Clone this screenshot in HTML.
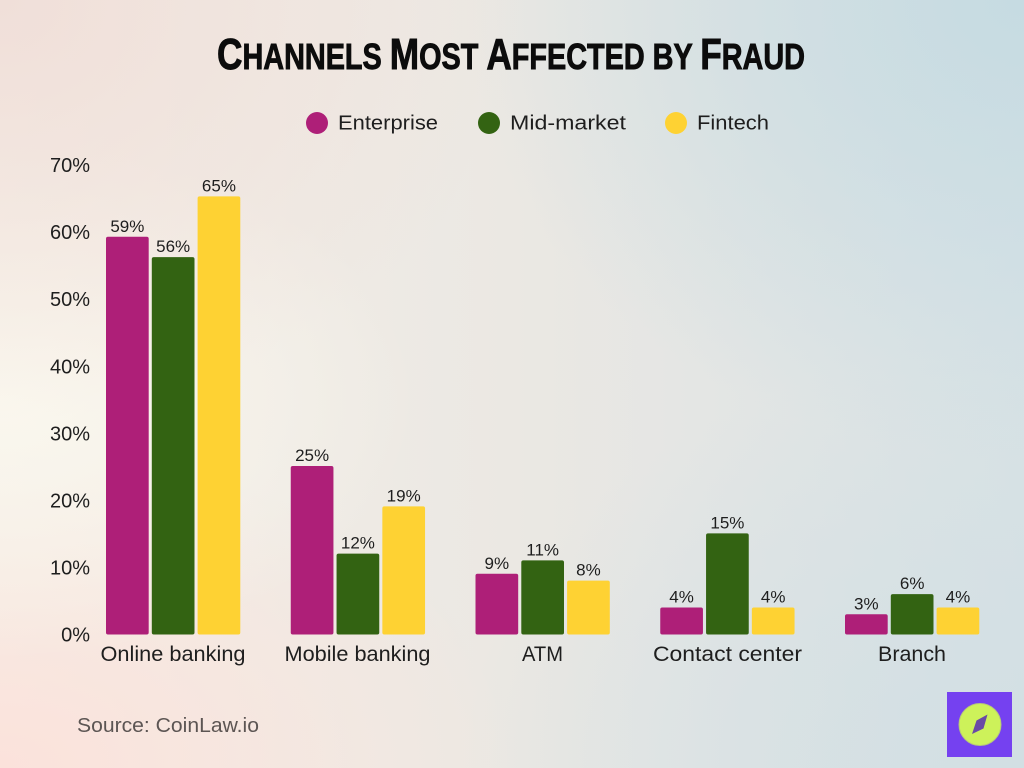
<!DOCTYPE html>
<html>
<head>
<meta charset="utf-8">
<style>
  html, body { margin: 0; padding: 0; }
  body {
    width: 1024px; height: 768px; overflow: hidden; position: relative;
    background:
      radial-gradient(ellipse 520px 420px at 0% 0%, rgba(240,222,216,0.95), rgba(240,222,216,0) 100%),
      radial-gradient(ellipse 560px 460px at 100% 0%, rgba(198,219,226,1), rgba(198,219,226,0) 100%),
      radial-gradient(ellipse 420px 260px at 0% 52%, rgba(250,247,238,1), rgba(250,247,238,0) 100%),
      radial-gradient(ellipse 520px 320px at 0% 100%, rgba(251,226,219,1), rgba(251,226,219,0) 100%),
      radial-gradient(ellipse 560px 420px at 100% 100%, rgba(210,223,227,1), rgba(210,223,227,0) 100%),
      linear-gradient(to right, #f5efe7 0%, #ebe8e3 50%, #d8e2e5 100%);
  }
  svg { position: absolute; left: 0; top: 0; }
  .t { font-family: "Liberation Sans", sans-serif; fill: #1e1e1e; }
</style>
</head>
<body>
<svg width="1024" height="768" viewBox="0 0 1024 768" xmlns="http://www.w3.org/2000/svg">
  <!-- Title -->
  <text x="217" y="69" textLength="588" lengthAdjust="spacingAndGlyphs" font-family="Liberation Sans, sans-serif" font-weight="bold" fill="#0c0c0c" stroke="#0c0c0c" stroke-width="0.9"><tspan font-size="44">C</tspan><tspan font-size="36">HANNELS </tspan><tspan font-size="44">M</tspan><tspan font-size="36">OST </tspan><tspan font-size="44">A</tspan><tspan font-size="36">FFECTED BY </tspan><tspan font-size="44">F</tspan><tspan font-size="36">RAUD</tspan></text>

  <!-- Legend -->
  <circle cx="317" cy="123" r="11" fill="#ae1f78"/>
  <text class="t" x="338" y="129.5" font-size="20" textLength="100" lengthAdjust="spacingAndGlyphs">Enterprise</text>
  <circle cx="489" cy="123" r="11" fill="#336312"/>
  <text class="t" x="510" y="129.5" font-size="20" textLength="116" lengthAdjust="spacingAndGlyphs">Mid-market</text>
  <circle cx="676" cy="123" r="11" fill="#fed233"/>
  <text class="t" x="697" y="129.5" font-size="20" textLength="72" lengthAdjust="spacingAndGlyphs">Fintech</text>

  <!-- Y axis labels -->
  <g class="t" font-size="20" text-anchor="end">
    <text x="90" y="641.7">0%</text>
    <text x="90" y="574.6">10%</text>
    <text x="90" y="507.5">20%</text>
    <text x="90" y="440.4">30%</text>
    <text x="90" y="373.3">40%</text>
    <text x="90" y="306.2">50%</text>
    <text x="90" y="239.1">60%</text>
    <text x="90" y="172">70%</text>
  </g>

  <!-- Bars -->
  <g>
    <rect x="106" y="236.8" width="42.7" height="397.7" rx="2" fill="#ae1f78"/>
    <rect x="151.8" y="257.1" width="42.7" height="377.4" rx="2" fill="#336312"/>
    <rect x="197.6" y="196.4" width="42.7" height="438.1" rx="2" fill="#fed233"/>
    <rect x="290.75" y="466" width="42.7" height="168.5" rx="2" fill="#ae1f78"/>
    <rect x="336.55" y="553.6" width="42.7" height="80.9" rx="2" fill="#336312"/>
    <rect x="382.35" y="506.4" width="42.7" height="128.1" rx="2" fill="#fed233"/>
    <rect x="475.5" y="573.8" width="42.7" height="60.7" rx="2" fill="#ae1f78"/>
    <rect x="521.3" y="560.4" width="42.7" height="74.1" rx="2" fill="#336312"/>
    <rect x="567.1" y="580.6" width="42.7" height="53.9" rx="2" fill="#fed233"/>
    <rect x="660.25" y="607.5" width="42.7" height="27" rx="2" fill="#ae1f78"/>
    <rect x="706.05" y="533.4" width="42.7" height="101.1" rx="2" fill="#336312"/>
    <rect x="751.85" y="607.5" width="42.7" height="27" rx="2" fill="#fed233"/>
    <rect x="845" y="614.3" width="42.7" height="20.2" rx="2" fill="#ae1f78"/>
    <rect x="890.8" y="594.1" width="42.7" height="40.4" rx="2" fill="#336312"/>
    <rect x="936.6" y="607.5" width="42.7" height="27" rx="2" fill="#fed233"/>
  </g>

  <!-- Value labels -->
  <g class="t" font-size="17" text-anchor="middle">
    <text x="127.35" y="231.8">59%</text>
    <text x="173.15" y="252.1">56%</text>
    <text x="218.95" y="191.4">65%</text>
    <text x="312.1" y="461">25%</text>
    <text x="357.9" y="548.6">12%</text>
    <text x="403.7" y="501.4">19%</text>
    <text x="496.85" y="568.8">9%</text>
    <text x="542.65" y="555.4">11%</text>
    <text x="588.45" y="575.6">8%</text>
    <text x="681.6" y="602.5">4%</text>
    <text x="727.4" y="528.4">15%</text>
    <text x="773.2" y="602.5">4%</text>
    <text x="866.35" y="609.3">3%</text>
    <text x="912.15" y="589.1">6%</text>
    <text x="957.95" y="602.5">4%</text>
  </g>

  <!-- Category labels -->
  <g class="t" font-size="21" text-anchor="middle">
    <text x="173" y="661" textLength="145" lengthAdjust="spacingAndGlyphs">Online banking</text>
    <text x="357.5" y="661" textLength="146" lengthAdjust="spacingAndGlyphs">Mobile banking</text>
    <text x="542.5" y="661" textLength="41" lengthAdjust="spacingAndGlyphs">ATM</text>
    <text x="727.5" y="661" textLength="149" lengthAdjust="spacingAndGlyphs">Contact center</text>
    <text x="912" y="661" textLength="68" lengthAdjust="spacingAndGlyphs">Branch</text>
  </g>

  <!-- Source -->
  <text x="77" y="732" font-family="Liberation Sans, sans-serif" font-size="20" fill="#5c5553" textLength="182" lengthAdjust="spacingAndGlyphs">Source: CoinLaw.io</text>

  <!-- Logo -->
  <rect x="947" y="692" width="65" height="65" fill="#7541f0"/>
  <circle cx="980" cy="724.5" r="21" fill="#cdf25a" stroke="#b6c77a" stroke-width="1"/>
  <polygon points="987.5,714.5 983.5,728.5 972,734 976.5,720.5" fill="#6a4aa6"/>
</svg>
</body>
</html>
